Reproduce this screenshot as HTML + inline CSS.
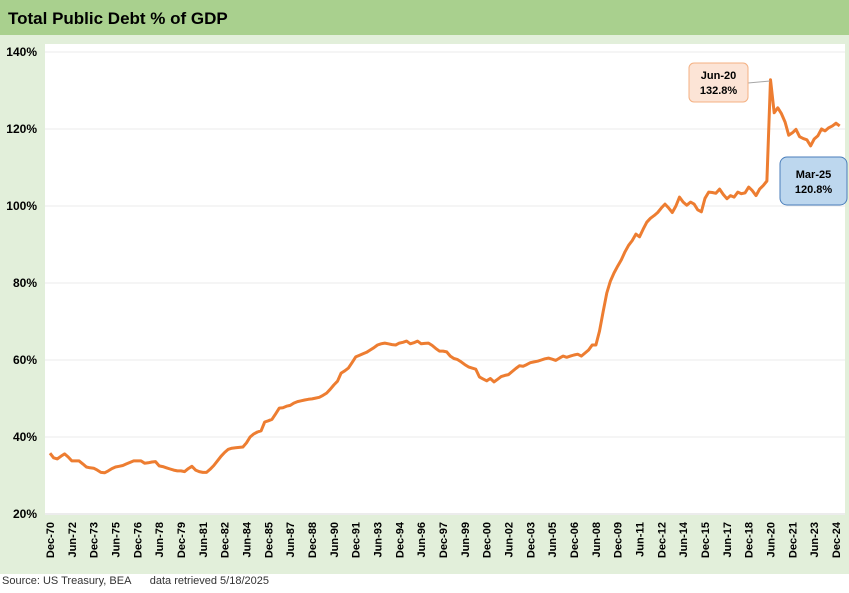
<!DOCTYPE html>
<html><head><meta charset="utf-8"><style>
body{margin:0;width:849px;height:588px;overflow:hidden;background:#fff;font-family:"Liberation Sans",sans-serif}
</style></head><body>
<svg width="849" height="588" xmlns="http://www.w3.org/2000/svg">
<rect x="0" y="0" width="849" height="574" fill="#e2efda"/>
<rect x="0" y="0" width="849" height="35" fill="#a9d08e"/>
<text x="8" y="24" font-size="17" font-weight="bold" fill="#000">Total Public Debt % of GDP</text>
<rect x="45" y="44" width="800" height="471" fill="#fff"/>
<g id="grid"></g><g id="yticks"></g><g id="xticks"></g>
<path id="line" fill="none" stroke="#ed7d31" stroke-width="3" stroke-linejoin="round"/>
<line x1="748" y1="83" x2="770" y2="81" stroke="#a6a6a6" stroke-width="1"/>
<g>
<rect x="689" y="63" width="59" height="39" rx="5" fill="#fce4d6" stroke="#f4b183"/>
<text x="718.5" y="79" font-size="11" font-weight="bold" text-anchor="middle">Jun-20</text>
<text x="718.5" y="94" font-size="11" font-weight="bold" text-anchor="middle">132.8%</text></g>
<g>
<rect x="780" y="157" width="67" height="48" rx="7" fill="#bdd7ee" stroke="#4a7ebb"/>
<text x="813.5" y="178" font-size="11" font-weight="bold" text-anchor="middle">Mar-25</text>
<text x="813.5" y="193" font-size="11" font-weight="bold" text-anchor="middle">120.8%</text></g>
<text x="2" y="584" font-size="11" fill="#333">Source: US Treasury, BEA&#160;&#160;&#160;&#160;&#160;&#160;data retrieved 5/18/2025</text>
</svg>
<script>
const yTicks=[20,40,60,80,100,120,140];
const monthNames=["Mar","Jun","Sep","Dec"];
const startYear=1970, startQuarter=3;
const debtPct=[35.8,34.6,34.3,35.0,35.6,34.8,33.8,33.8,33.8,33.0,32.2,32.0,31.9,31.4,30.8,30.7,31.2,31.8,32.2,32.4,32.6,33.0,33.4,33.8,33.8,33.8,33.2,33.3,33.5,33.6,32.5,32.3,32.0,31.7,31.4,31.2,31.2,31.0,31.8,32.4,31.4,31.0,30.8,30.8,31.6,32.6,33.8,35.0,36.0,36.8,37.1,37.2,37.3,37.4,38.5,40.0,40.8,41.3,41.6,43.9,44.2,44.6,46.0,47.5,47.6,48.0,48.2,48.8,49.2,49.4,49.6,49.8,49.9,50.1,50.3,50.8,51.4,52.4,53.5,54.5,56.6,57.2,57.9,59.3,60.8,61.2,61.6,62.0,62.6,63.2,63.9,64.2,64.4,64.2,64.0,63.9,64.4,64.6,64.9,64.2,64.5,64.9,64.2,64.3,64.4,63.8,63.0,62.3,62.3,62.1,61.0,60.4,60.1,59.5,58.8,58.2,57.9,57.6,55.6,55.1,54.6,55.2,54.3,55.0,55.7,56.0,56.2,57.0,57.8,58.5,58.4,58.8,59.3,59.5,59.7,60.0,60.3,60.5,60.2,59.9,60.5,61.0,60.7,61.0,61.3,61.5,61.0,61.8,62.6,63.9,63.9,67.5,72.5,77.4,80.5,82.6,84.4,86.0,88.1,89.8,91.0,92.7,92.0,94.0,95.8,96.8,97.5,98.3,99.5,100.5,99.5,98.3,100.0,102.3,101.0,100.2,101.0,100.5,99.0,98.5,102.0,103.6,103.5,103.3,104.4,103.0,101.9,102.7,102.3,103.6,103.2,103.4,104.9,104.0,102.7,104.4,105.3,106.5,132.8,124.2,125.5,124.0,121.8,118.4,119.0,119.9,118.0,117.5,117.2,115.6,117.4,118.2,120.0,119.5,120.3,120.8,121.5,120.8];
const NS="http://www.w3.org/2000/svg";
const X=q=>50+q*3.639, Y=v=>514-(v-20)*3.85;
const grid=document.getElementById('grid'), yt=document.getElementById('yticks'), xt=document.getElementById('xticks');
yTicks.forEach(t=>{
 const l=document.createElementNS(NS,'line');
 
 
 l.setAttribute('x1',45);l.setAttribute('x2',845);l.setAttribute('y1',Y(t));l.setAttribute('y2',Y(t));
 l.setAttribute('stroke',t===20?'#d9d9d9':'#ebebeb');l.setAttribute('stroke-width',1);grid.appendChild(l);
 const tx=document.createElementNS(NS,'text');
 
 
 tx.setAttribute('x',37);tx.setAttribute('y',Y(t)+4);tx.setAttribute('text-anchor','end');
 tx.setAttribute('font-size','12');tx.setAttribute('font-weight','bold');tx.textContent=t+'%';yt.appendChild(tx);
});
for(let q=0;q<debtPct.length;q+=6){
 const qi=startQuarter+q, yr=startYear+Math.floor(qi/4), m=monthNames[qi%4];
 const tx=document.createElementNS(NS,'text');
 
 
 const x=X(q)+4, y=522;
 tx.setAttribute('transform','translate('+x+','+y+') rotate(-90)');
 tx.setAttribute('text-anchor','end');tx.setAttribute('font-size','11');tx.setAttribute('font-weight','bold');
 tx.textContent=m+'-'+String(yr%100).padStart(2,'0');xt.appendChild(tx);
}
document.getElementById('line').setAttribute('d',debtPct.map((v,i)=>(i?'L':'M')+X(i).toFixed(1)+' '+Y(v).toFixed(1)).join(''));
</script>
</body></html>
